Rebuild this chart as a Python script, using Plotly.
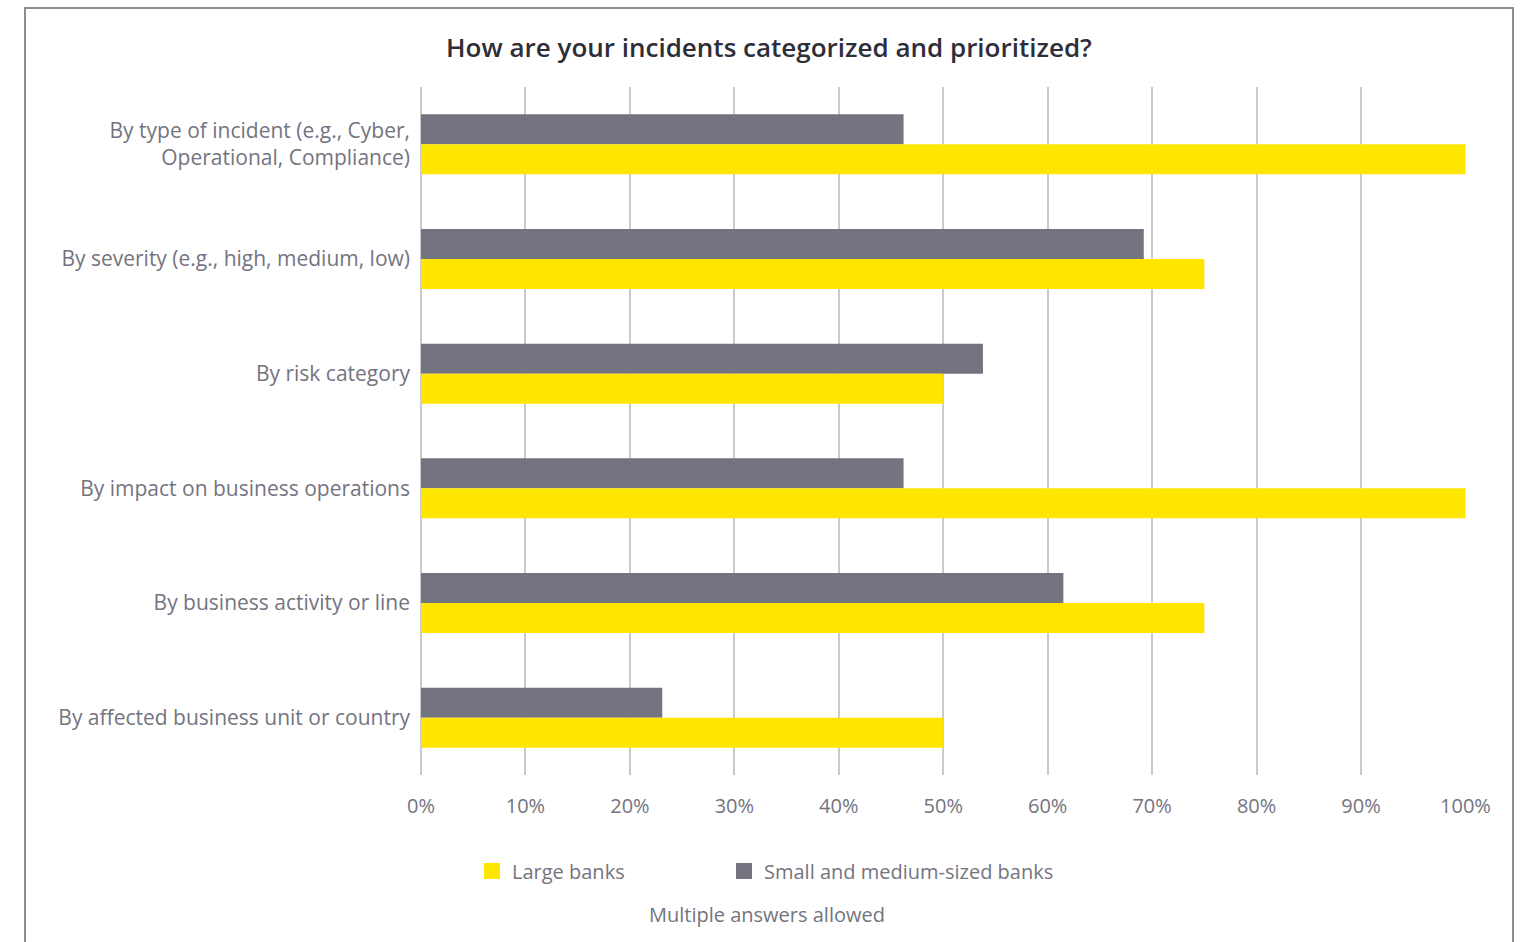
import plotly.graph_objects as go

# Survey answers: share of respondents (%) per categorization method
categories = [
    "By type of incident (e.g., Cyber,<br>Operational, Compliance)",
    "By severity (e.g., high, medium, low)",
    "By risk category",
    "By impact on business operations",
    "By business activity or line",
    "By affected business unit or country",
]
large_banks = [100, 75, 50, 100, 75, 50]
small_medium_banks = [46.2, 69.2, 53.8, 46.2, 61.5, 23.1]
x_ticks = [0, 10, 20, 30, 40, 50, 60, 70, 80, 90, 100]
x_tick_labels = [f"{t}%" for t in x_ticks]
series_names = ["Large banks", "Small and medium-sized banks"]

YELLOW = "#FFE600"
GREY = "#747480"
TEXT = "#747480"
DARK = "#2E2E38"
GRID = "#C9C9D1"
FONT = "'Open Sans', sans-serif"

W, H = 1521, 942
left, right, top, bottom = 421, 55, 87, 167

fig = go.Figure()
fig.add_trace(go.Bar(
    y=categories, x=small_medium_banks, orientation="h",
    name=series_names[1], marker=dict(color=GREY, line=dict(width=0)),
    hovertemplate="%{y}: %{x:.0f}%<extra></extra>", showlegend=False,
))
fig.add_trace(go.Bar(
    y=categories, x=large_banks, orientation="h",
    name=series_names[0], marker=dict(color=YELLOW, line=dict(width=0)),
    hovertemplate="%{y}: %{x:.0f}%<extra></extra>", showlegend=False,
))
# Legend keys: plain square swatches, one legend box per series
for name, color, lg in zip(series_names, [YELLOW, GREY], ["legend", "legend2"]):
    fig.add_trace(go.Scatter(
        x=[None], y=[None], mode="markers", name=name, legend=lg,
        marker=dict(symbol="square", size=16, color=color, line=dict(width=0)),
        hoverinfo="skip",
    ))

legend_common = dict(
    orientation="h", xref="container", xanchor="left",
    y=1 - 871 / H, yref="container", yanchor="middle",
    font=dict(size=20, color=TEXT), itemsizing="trace",
    bgcolor="rgba(0,0,0,0)",
)

fig.update_layout(
    width=W, height=H,
    margin=dict(l=left, r=right, t=top, b=bottom),
    paper_bgcolor="white", plot_bgcolor="white",
    barmode="group", bargap=0.477, bargroupgap=0,
    font=dict(family=FONT, color=TEXT, size=20),
    title=dict(
        text="How are your incidents categorized and prioritized?",
        font=dict(family=FONT, size=26, color=DARK, weight=600),
        x=769 / W, xref="container", xanchor="center",
        y=1 - 48 / H, yref="container", yanchor="middle",
    ),
    xaxis=dict(
        range=[0, 100.05], tickvals=x_ticks, ticktext=x_tick_labels,
        showgrid=True, gridcolor=GRID, gridwidth=1.5,
        zeroline=True, zerolinecolor=GRID, zerolinewidth=1.5,
        showline=False, ticks="", ticklabelstandoff=17,
        tickfont=dict(size=20, color=TEXT), fixedrange=True,
    ),
    yaxis=dict(
        autorange="reversed", showgrid=False, zeroline=False, showline=False,
        ticks="", ticklabelstandoff=10,
        tickfont=dict(size=21, color=TEXT), fixedrange=True,
    ),
    legend=dict(x=472 / W, **legend_common),
    legend2=dict(x=724 / W, **legend_common),
    showlegend=True,
)

fig.add_annotation(
    text="Multiple answers allowed", xref="paper", yref="paper",
    x=(767 - left) / (W - left - right), y=-(914 - (H - bottom)) / (H - top - bottom),
    xanchor="center", yanchor="middle", showarrow=False,
    font=dict(size=20, color=TEXT),
)

# Frame around the whole graphic (bottom edge runs off the page)
plot_w = W - left - right
plot_h = H - top - bottom
fig.add_shape(
    type="rect", xref="paper", yref="paper",
    x0=(25 - left) / plot_w, x1=(1513 - left) / plot_w,
    y0=-(960 - (H - bottom)) / plot_h, y1=1 + (top - 8) / plot_h,
    line=dict(color="#8C8C96", width=2), fillcolor="rgba(0,0,0,0)", layer="below",
)

fig.write_html("out.html")
